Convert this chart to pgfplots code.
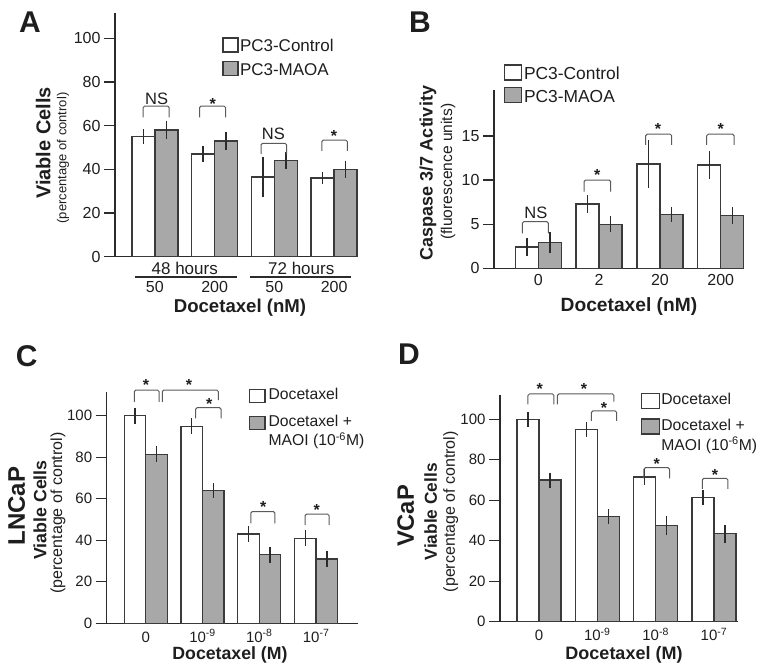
\documentclass[border=0pt]{standalone}
\usepackage{fontspec}
\setmainfont{Liberation Sans}
\usepackage{pgfplots}
\pgfplotsset{compat=1.18}
\definecolor{barline}{HTML}{3A3A3A}
\definecolor{barfill}{HTML}{A8A8A8}
\definecolor{axcol}{HTML}{2B2B2B}
\definecolor{brkcol}{HTML}{5A5A5A}
\definecolor{txt}{HTML}{1E1E1E}
\newcommand\fs[1]{\fontsize{#1}{#1}\selectfont}
\newcommand\brk[5]{\draw[brkcol, line width=1pt, rounded corners=1.5pt] (axis cs:#1,#4) -- (axis cs:#1,#3) -- (axis cs:#2,#3) -- (axis cs:#2,#5);}
\newcommand\sig[2]{\node[font=\bfseries\fs{16}, text=txt, anchor=base, inner sep=0pt, yshift=-9pt] at (axis cs:#1,#2) {*};}
\newcommand\ns[2]{\node[font=\fs{16.5}, text=txt, inner sep=0pt] at (axis cs:#1,#2) {NS};}
\pgfplotsset{
  panel/.style={
    scale only axis, clip=false, ybar,
    axis x line*=bottom, axis y line*=left,
    axis line style={-, line width=1.5pt, draw=axcol},
    ymin=0,
    xtick style={draw=none},
    ytick style={line width=1.3pt, draw=axcol},
    tick align=outside,
    major tick length=11pt,
    /pgf/number format/assume math mode=true,
    tick label style={text=txt},
    legend cell align=left,
    legend style={draw=none, fill=none, inner sep=0pt, outer sep=0pt, anchor=north west, nodes={inner sep=0pt}, text=txt, cells={anchor=base west}},
  },
  errs/.style={error bars/y dir=both, error bars/y explicit, error bars/error mark=none,
    error bars/error bar style={line width=1.4pt, draw=axcol}},
  wbar/.style={draw=barline, fill=white, line width=1.3pt, errs},
  gbar/.style={draw=barline, fill=barfill, line width=1.3pt, errs},
  sqleg/.style n args={3}{legend image code/.code={\draw[##1] (0pt,#1) rectangle (#2,#3);}},
}
\begin{document}
\begin{tikzpicture}
\useasboundingbox (0,0) rectangle (768pt,-671pt);
% ---------------- Panel A ----------------
\begin{axis}[panel, at={(115pt,-256.7pt)}, anchor=south west, width=243pt, height=243.7pt,
  xmin=-0.667, xmax=3.4, ymax=111.6, ytick={0,20,...,100},
  xtick={0,1,2,3}, xticklabels={50,200,50,200},
  tick label style={font=\fs{16}},
  xticklabel style={anchor=center, yshift=-19.7pt},
  legend style={at={(axis description cs:0.442,0.900)}, font=\fs{17}, row sep=7.7pt, /tikz/every odd column/.append style={column sep=1.3pt}},
]
\addplot[wbar, bar width=23pt, bar shift=-11.5pt, sqleg={-0.3pt}{15pt}{13.7pt}] coordinates {(0,55) +- (0,3.6) (1,47) +- (0,3.8) (2,36.5) +- (0,9) (3,36) +- (0,2.8)};
\addplot[gbar, bar width=23pt, bar shift=11.5pt, sqleg={-0.3pt}{15pt}{13.7pt}] coordinates {(0,58) +- (0,4) (1,53) +- (0,4) (2,44) +- (0,4) (3,40) +- (0,4)};
\legend{PC3-Control, PC3-MAOA}
\brk{-0.195}{0.238}{69}{63.8}{63.8}
\ns{0.03}{72.5}
\brk{0.75}{1.183}{69}{63.8}{63.8}
\sig{0.97}{71.7}
\brk{1.778}{2.205}{51.9}{47}{47}
\ns{1.983}{56.5}
\brk{2.795}{3.222}{53.4}{48.5}{48.5}
\sig{3.0}{56.8}
\node[font=\fs{17}, text=txt, yshift=-11.6pt] at (axis cs:0.5,0) {48 hours};
\node[font=\fs{17}, text=txt, yshift=-11.6pt] at (axis cs:2.45,0) {72 hours};
\draw[axcol, line width=1.3pt] ([yshift=-20.3pt]axis cs:-0.333,0) -- ([yshift=-20.3pt]axis cs:1.383,0);
\draw[axcol, line width=1.3pt] ([yshift=-20.3pt]axis cs:1.6,0) -- ([yshift=-20.3pt]axis cs:3.283,0);
\end{axis}
\node[font=\bfseries\fs{30}, text=txt] at (30pt,-22.5pt) {A};
\node[rotate=90, font=\bfseries\fs{20}, text=txt] at (43.3pt,-143pt) {Viable Cells};
\node[rotate=90, font=\fs{13}, text=txt] at (63pt,-158pt) {(percentage of control)};
\node[font=\bfseries\fs{18.6}, text=txt] at (240pt,-308pt) {Docetaxel (nM)};
% ---------------- Panel B ----------------
\begin{axis}[panel, at={(494pt,-268.3pt)}, anchor=south west, width=250pt, height=178.3pt,
  xmin=-0.729, xmax=3.383, ymax=20.2, ytick={0,5,10,15},
  xtick={0,1,2,3}, xticklabels={0,2,20,200},
  tick label style={font=\fs{16}},
  xticklabel style={anchor=center, yshift=-0.7pt},
  legend style={at={(axis description cs:0.040,1.144)}, font=\fs{17.4}, row sep=6.4pt, /tikz/every odd column/.append style={column sep=2pt}},
]
\addplot[wbar, bar width=23pt, bar shift=-11.5pt, sqleg={-0.7pt}{16.7pt}{14.3pt}] coordinates {(0,2.4) +- (0,1.0) (1,7.3) +- (0,1.0) (2,11.8) +- (0,2.7) (3,11.7) +- (0,1.6)};
\addplot[gbar, bar width=23pt, bar shift=11.5pt, sqleg={-0.7pt}{16.7pt}{14.3pt}] coordinates {(0,2.9) +- (0,1.2) (1,5.0) +- (0,0.9) (2,6.1) +- (0,0.9) (3,5.95) +- (0,0.95)};
\legend{PC3-Control, PC3-MAOA}
\brk{-0.263}{0.164}{5.28}{3.97}{3.97}
\ns{-0.04}{6.24}
\brk{0.752}{1.19}{10.0}{8.69}{8.69}
\sig{0.97}{10.95}
\brk{1.766}{2.194}{15.19}{13.98}{13.98}
\sig{1.97}{16.13}
\brk{2.77}{3.22}{15.19}{13.98}{13.98}
\sig{3.0}{16.13}
\end{axis}
\node[font=\bfseries\fs{30}, text=txt] at (420pt,-22.5pt) {B};
\node[rotate=90, font=\bfseries\fs{18}, text=txt] at (428pt,-173pt) {Caspase 3/7 Activity};
\node[rotate=90, font=\fs{15.6}, text=txt] at (448pt,-171.7pt) {(fluorescence units)};
\node[font=\bfseries\fs{19.2}, text=txt] at (629pt,-306.7pt) {Docetaxel (nM)};
% ---------------- Panel C ----------------
\begin{axis}[panel, at={(106.7pt,-623.3pt)}, anchor=south west, width=251.6pt, height=231.6pt,
  xmin=-0.687, xmax=3.743, ymax=111.6, ytick={0,20,...,100},
  xtick={0,1,2,3}, xticklabels={0,10\textsuperscript{-9},10\textsuperscript{-8},10\textsuperscript{-7}},
  tick label style={font=\fs{15}},
  xticklabel style={anchor=base, yshift=-7.7pt},
  legend style={at={(axis description cs:0.564,1.014)}, font=\fontsize{15.7}{19.3}\selectfont, row sep=9.55pt, /tikz/every odd column/.append style={column sep=3pt}},
]
\addplot[wbar, bar width=21.5pt, bar shift=-10.75pt, sqleg={-3pt}{15.7pt}{10.3pt}] coordinates {(0,100) +- (0,3.8) (1,95) +- (0,3.8) (2,43) +- (0,4) (3,41) +- (0,3.8)};
\addplot[gbar, bar width=21.5pt, bar shift=10.75pt, sqleg={-3pt}{15.7pt}{10.3pt}] coordinates {(0,81.5) +- (0,3.8) (1,64) +- (0,3.6) (2,33) +- (0,4) (3,31) +- (0,4)};
\legend{Docetaxel, {\begin{tabular}[t]{@{}l@{}}Docetaxel +\\MAOI (10\textsuperscript{-6}M)\end{tabular}}}
\brk{-0.2}{0.234}{112.4}{106.7}{106.7}
\sig{0.005}{116.4}
\brk{0.292}{1.278}{112.4}{106.7}{107.6}
\sig{0.762}{116.4}
\brk{0.88}{1.326}{103.9}{98.7}{98.7}
\sig{1.12}{107.6}
\brk{1.85}{2.276}{53.8}{48.2}{48.2}
\sig{2.07}{57.8}
\brk{2.805}{3.23}{52.6}{47.4}{47.4}
\sig{3.01}{56.2}
\end{axis}
\node[font=\bfseries\fs{30}, text=txt] at (26.7pt,-356pt) {C};
\node[rotate=90, font=\bfseries\fs{24}, text=txt] at (16.7pt,-506pt) {LNCaP};
\node[rotate=90, font=\bfseries\fs{17.8}, text=txt] at (40pt,-510pt) {Viable Cells};
\node[rotate=90, font=\fs{16}, text=txt] at (58pt,-513pt) {(percentage of control)};
\node[font=\bfseries\fs{17.7}, text=txt] at (230pt,-655pt) {Docetaxel (M)};
% ---------------- Panel D ----------------
\begin{axis}[panel, at={(500pt,-621.7pt)}, anchor=south west, width=238.3pt, height=226.7pt,
  xmin=-0.669, xmax=3.418, ymax=112, ytick={0,20,...,100},
  xtick={0,1,2,3}, xticklabels={0,10\textsuperscript{-9},10\textsuperscript{-8},10\textsuperscript{-7}},
  tick label style={font=\fs{15}},
  xticklabel style={anchor=base, yshift=-7.7pt},
  legend style={at={(axis description cs:0.592,1.010)}, font=\fontsize{15.7}{20}\selectfont, row sep=7.05pt, /tikz/every odd column/.append style={column sep=1pt}},
]
\addplot[wbar, bar width=22pt, bar shift=-11pt, sqleg={-4pt}{18pt}{11pt}] coordinates {(0,100) +- (0,3.8) (1,95) +- (0,3.8) (2,71.5) +- (0,3.8) (3,61.5) +- (0,3.8)};
\addplot[gbar, bar width=22pt, bar shift=11pt, sqleg={-4pt}{18pt}{11pt}] coordinates {(0,70) +- (0,3.7) (1,52) +- (0,3.9) (2,47.5) +- (0,4.6) (3,43.5) +- (0,4.5)};
\legend{Docetaxel, {\begin{tabular}[t]{@{}l@{}}Docetaxel +\\MAOI (10\textsuperscript{-6}M)\end{tabular}}}
\brk{-0.189}{0.257}{112.5}{107.4}{107.4}
\sig{0.012}{116.6}
\brk{0.314}{1.286}{112.5}{107.4}{108.7}
\sig{0.772}{116.6}
\brk{0.897}{1.333}{104.1}{99.2}{99.2}
\sig{1.115}{107.4}
\brk{1.8}{2.24}{76.1}{70.8}{70.8}
\sig{2.02}{79.4}
\brk{2.8}{3.24}{70.8}{65.6}{65.6}
\sig{3.02}{74.1}
\end{axis}
\node[font=\bfseries\fs{30}, text=txt] at (409pt,-354pt) {D};
\node[rotate=90, font=\bfseries\fs{23.7}, text=txt] at (405.7pt,-516pt) {VCaP};
\node[rotate=90, font=\bfseries\fs{17.3}, text=txt] at (430.7pt,-511.7pt) {Viable Cells};
\node[rotate=90, font=\fs{16}, text=txt] at (450.7pt,-511.7pt) {(percentage of control)};
\node[font=\bfseries\fs{18}, text=txt] at (624pt,-655pt) {Docetaxel (M)};
\end{tikzpicture}
\end{document}
